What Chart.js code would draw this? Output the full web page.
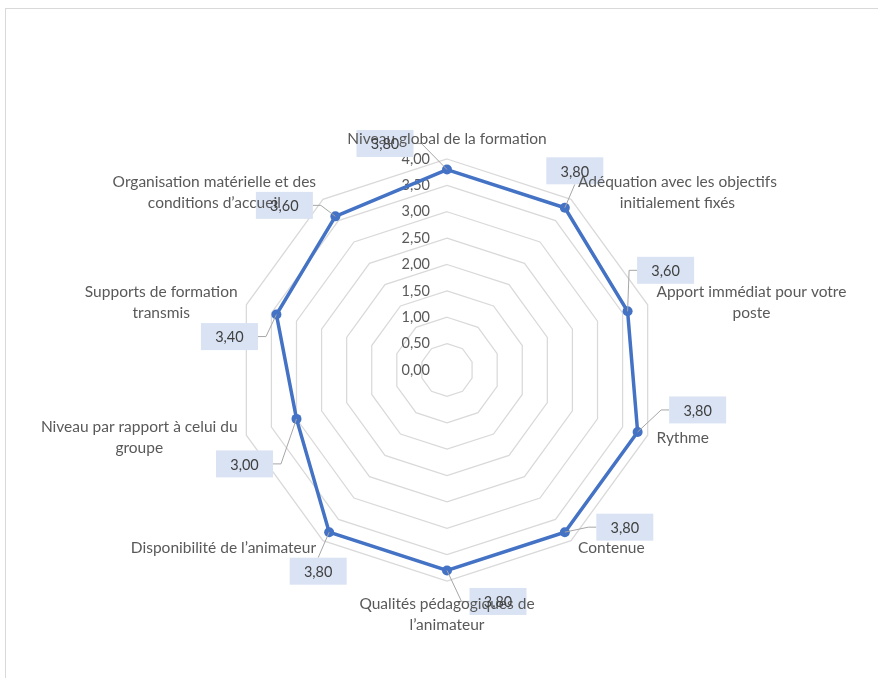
<!DOCTYPE html>
<html>
<head>
<meta charset="utf-8">
<script src="https://cdn.jsdelivr.net/npm/chart.js@4.4.0/dist/chart.umd.min.js"></script>
<style>
  body { margin: 0; background: #fff; }
  #frame { position: absolute; left: 5px; top: 8px; width: 900px; height: 700px; border: 1px solid #d9d9d9; }
  canvas { position: absolute; left: 0; top: 0; }
</style>
</head>
<body>
<div id="frame"></div>
<canvas id="radarChart" width="878" height="678"></canvas>
<script>
const categories = [
  ["Niveau global de la formation"],
  ["Adéquation avec les objectifs", "initialement fixés"],
  ["Apport immédiat pour votre", "poste"],
  ["Rythme"],
  ["Contenue"],
  ["Qualités pédagogiques de", "l’animateur"],
  ["Disponibilité de l’animateur"],
  ["Niveau par rapport à celui du", "groupe"],
  ["Supports de formation", "transmis"],
  ["Organisation matérielle et des", "conditions d’accueil"],
];
const scores = [3.8, 3.8, 3.6, 3.8, 3.8, 3.8, 3.8, 3.0, 3.4, 3.6];
const scaleMin = 0;
const scaleMax = 4;
const scaleStep = 0.5;

const fontFamily = "Lato, 'Open Sans', sans-serif";
const fmt = (v) => v.toFixed(2).replace(".", ",");

// where each value box sits, relative to its point (px)
const boxShift = [[-62, -26], [10, -37], [38, -41], [60, -22], [60, -5], [51, 31], [-11, 39], [-52, 45], [-47, 22], [-51, -11]];

//tick labels, left of the vertical axis
const tickLabels = {
  id: "tickLabels",
  beforeDatasetsDraw(chart) {
    const r = chart.scales.r;
    const ctx = chart.ctx;
    ctx.save();
    ctx.font = "14.5px " + fontFamily;
    ctx.fillStyle = "#595959";
    ctx.textAlign = "right";
    ctx.textBaseline = "middle";
    r.ticks.forEach((t) => {
      const d = r.getDistanceFromCenterForValue(t.value);
      ctx.fillText(fmt(t.value), r.xCenter - 17, r.yCenter - d);
    });
    ctx.restore();
  },
};

//category labels + value boxes
const labelsPlugin = {
  id: "labelsPlugin",
  afterDatasetsDraw(chart) {
    const r = chart.scales.r;
    const ctx = chart.ctx;
    const meta = chart.getDatasetMeta(0);
    const bw = 57, bh = 27;
    ctx.save();

    const boxes = meta.data.map((pt, i) => {
      const cx = pt.x + boxShift[i][0];
      const cy = pt.y + boxShift[i][1];
      return { cx, cy, px: pt.x, py: pt.y };
    });

    // leader lines
    ctx.strokeStyle = "#a6a6a6";
    ctx.lineWidth = 1;
    boxes.forEach((b) => {
      const dx = b.px - b.cx;
      const dy = b.py - b.cy;
      ctx.beginPath();
      if (Math.abs(dx) > bw / 2) {
        const sx = b.cx + Math.sign(dx) * bw / 2;
        ctx.moveTo(sx, b.cy);
        ctx.lineTo(sx + Math.sign(dx) * 8, b.cy);
        ctx.lineTo(b.px, b.py);
      } else {
        ctx.moveTo(b.cx, b.cy + Math.sign(dy) * bh / 2);
        ctx.lineTo(b.px, b.py);
      }
      ctx.stroke();
    });

    // boxes
    ctx.fillStyle = "#dae3f3";
    boxes.forEach((b) => {
      ctx.fillRect(b.cx - bw / 2, b.cy - bh / 2, bw, bh);
    });

    // category labels
    ctx.font = "15.5px " + fontFamily;
    ctx.fillStyle = "#595959";
    ctx.textBaseline = "middle";
    ctx.textAlign = "center";
    const lh = 21;
    categories.forEach((lines, i) => {
      const v = r.getPointPosition(i, r.drawingArea);
      const a = (i * 360) / categories.length;
      const rad = (a * Math.PI) / 180;
      const wMax = Math.max(...lines.map((l) => ctx.measureText(l).width));
      const h = lines.length * lh;
      let x, top;
      if (a === 0) {
        x = v.x;
        top = v.y - 20 - h / 2;
      } else if (a === 180) {
        x = v.x;
        top = v.y + 12;
      } else {
        const gap = 4 + 5 * Math.abs(Math.sin(rad));
        x = a < 180 ? v.x + gap + wMax / 2 : v.x - gap - wMax / 2;
        top = v.y - Math.cos(rad) * 9 - h / 2;
      }
      lines.forEach((l, k) => ctx.fillText(l, x, top + lh * k + lh / 2));
    });

    // values
    ctx.font = "14.5px " + fontFamily;
    ctx.fillStyle = "#404040";
    boxes.forEach((b, i) => {
      ctx.fillText(fmt(scores[i]), b.cx, b.cy + 1);
    });
    ctx.restore();
  },
};

new Chart(document.getElementById("radarChart"), {
  type: "radar",
  data: {
    labels: categories,
    datasets: [
      {
        label: "Note",
        data: scores,
        borderColor: "#4472c4",
        backgroundColor: "#4472c4",
        borderWidth: 3.5,
        pointRadius: 5,
        pointBackgroundColor: "#4472c4",
        pointBorderWidth: 0,
        fill: false,
      },
    ],
  },
  options: {
    responsive: false,
    animation: false,
    layout: { padding: { left: 27, right: 11, top: 159, bottom: 97 } },
    plugins: { legend: { display: false }, tooltip: { enabled: false } },
    scales: {
      r: {
        min: scaleMin,
        max: scaleMax,
        ticks: { stepSize: scaleStep, display: false },
        grid: { color: "#d9d9d9", lineWidth: 1.25 },
        angleLines: { display: false },
        pointLabels: { display: false },
      },
    },
  },
  plugins: [tickLabels, labelsPlugin],
});
</script>
</body>
</html>
